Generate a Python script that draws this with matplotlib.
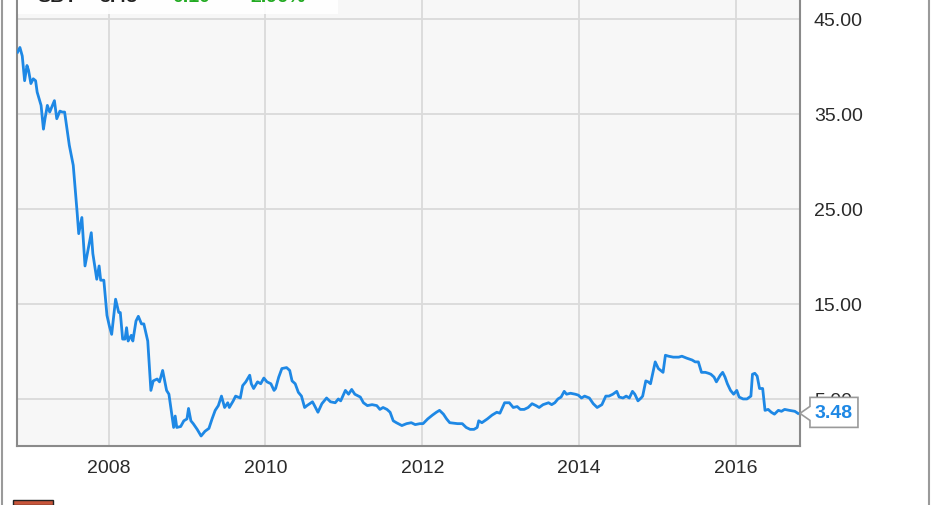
import matplotlib
matplotlib.use("Agg")
import matplotlib.pyplot as plt
import matplotlib.transforms as mtransforms
from matplotlib.patches import Polygon, Rectangle
from matplotlib.lines import Line2D

plt.rcParams['font.family'] = ['Liberation Sans', 'DejaVu Sans']

# share price (decimal year, USD)
years = [
    2006.84, 2006.87, 2006.90, 2006.93, 2006.96, 2006.98, 2007.01, 2007.04, 2007.07, 2007.09,
    2007.14, 2007.17, 2007.19, 2007.22, 2007.25, 2007.31, 2007.34, 2007.38, 2007.41, 2007.44,
    2007.50, 2007.55, 2007.60, 2007.62, 2007.66, 2007.70, 2007.78, 2007.80, 2007.85, 2007.88,
    2007.90, 2007.94, 2007.98, 2008.01, 2008.04, 2008.09, 2008.13, 2008.15, 2008.18, 2008.21,
    2008.23, 2008.25, 2008.29, 2008.31, 2008.35, 2008.38, 2008.42, 2008.45, 2008.47, 2008.50,
    2008.54, 2008.57, 2008.62, 2008.65, 2008.69, 2008.74, 2008.77, 2008.83, 2008.85, 2008.87,
    2008.92, 2008.96, 2009.00, 2009.02, 2009.05, 2009.08, 2009.13, 2009.18, 2009.23, 2009.28,
    2009.32, 2009.36, 2009.40, 2009.44, 2009.48, 2009.52, 2009.54, 2009.59, 2009.62, 2009.68,
    2009.71, 2009.75, 2009.80, 2009.82, 2009.85, 2009.90, 2009.94, 2009.98, 2010.02, 2010.07,
    2010.11, 2010.13, 2010.17, 2010.21, 2010.27, 2010.31, 2010.34, 2010.38, 2010.42, 2010.46,
    2010.50, 2010.53, 2010.60, 2010.62, 2010.67, 2010.72, 2010.78, 2010.83, 2010.89, 2010.93,
    2010.96, 2011.02, 2011.06, 2011.10, 2011.14, 2011.21, 2011.25, 2011.30, 2011.36, 2011.42,
    2011.46, 2011.50, 2011.55, 2011.59, 2011.63, 2011.67, 2011.74, 2011.80, 2011.86, 2011.91,
    2011.97, 2012.01, 2012.07, 2012.13, 2012.18, 2012.22, 2012.27, 2012.31, 2012.35, 2012.45,
    2012.51, 2012.56, 2012.61, 2012.66, 2012.70, 2012.72, 2012.76, 2012.83, 2012.89, 2012.95,
    2012.99, 2013.05, 2013.11, 2013.16, 2013.21, 2013.25, 2013.30, 2013.35, 2013.40, 2013.45,
    2013.49, 2013.54, 2013.61, 2013.65, 2013.69, 2013.73, 2013.77, 2013.81, 2013.84, 2013.89,
    2013.95, 2013.99, 2014.03, 2014.07, 2014.13, 2014.18, 2014.23, 2014.29, 2014.34, 2014.38,
    2014.43, 2014.48, 2014.51, 2014.56, 2014.60, 2014.64, 2014.68, 2014.71, 2014.75, 2014.79,
    2014.81, 2014.85, 2014.88, 2014.91, 2014.97, 2015.01, 2015.07, 2015.10, 2015.14, 2015.20,
    2015.27, 2015.31, 2015.37, 2015.44, 2015.48, 2015.52, 2015.56, 2015.61, 2015.65, 2015.68,
    2015.72, 2015.75, 2015.80, 2015.83, 2015.86, 2015.89, 2015.93, 2015.97, 2016.01, 2016.04,
    2016.09, 2016.14, 2016.19, 2016.21, 2016.24, 2016.27, 2016.30, 2016.34, 2016.37, 2016.41,
    2016.45, 2016.49, 2016.54, 2016.58, 2016.62, 2016.68, 2016.75, 2016.79,
]
prices = [
    41.5, 42.0, 41.1, 38.5, 40.1, 39.6, 38.2, 38.7, 38.5, 37.3,
    35.9, 33.4, 34.5, 35.9, 35.2, 36.4, 34.5, 35.3, 35.2, 35.2,
    31.7, 29.6, 24.6, 22.4, 24.1, 19.0, 22.5, 20.3, 17.6, 19.0,
    17.5, 17.5, 13.8, 12.7, 11.8, 15.5, 14.1, 14.1, 11.3, 11.3,
    12.5, 11.1, 11.7, 11.1, 13.2, 13.7, 12.9, 12.9, 12.2, 11.1,
    5.9, 6.9, 7.1, 6.8, 8.0, 5.9, 5.5, 2.0, 3.2, 2.0,
    2.1, 2.7, 2.9, 4.0, 2.7, 2.4, 1.8, 1.1, 1.6, 1.9,
    2.9, 3.8, 4.3, 5.3, 4.1, 4.6, 4.1, 4.8, 5.3, 5.1,
    6.4, 6.8, 7.5, 6.6, 6.1, 6.8, 6.6, 7.2, 6.8, 6.6,
    5.9, 6.1, 7.3, 8.2, 8.3, 8.0, 6.9, 6.6, 5.7, 5.3,
    4.1, 4.3, 4.7, 4.4, 3.6, 4.5, 5.1, 4.7, 4.6, 5.0,
    4.8, 5.9, 5.5, 6.0, 5.5, 5.2, 4.6, 4.3, 4.4, 4.3,
    3.9, 4.1, 3.9, 3.6, 2.7, 2.5, 2.2, 2.4, 2.5, 2.3,
    2.4, 2.4, 2.9, 3.3, 3.6, 3.8, 3.4, 2.9, 2.5, 2.4,
    2.4, 2.0, 1.8, 1.8, 2.0, 2.7, 2.5, 2.9, 3.3, 3.6,
    3.5, 4.6, 4.6, 4.1, 4.2, 3.9, 3.9, 4.1, 4.5, 4.3,
    4.1, 4.4, 4.6, 4.4, 4.6, 5.0, 5.2, 5.8, 5.5, 5.6,
    5.5, 5.4, 5.1, 5.3, 5.1, 4.5, 4.1, 4.4, 5.3, 5.3,
    5.5, 5.8, 5.2, 5.1, 5.3, 5.1, 5.8, 5.5, 4.8, 5.1,
    5.3, 6.9, 6.8, 6.6, 8.9, 8.2, 7.8, 9.6, 9.5, 9.4,
    9.4, 9.5, 9.3, 9.1, 8.9, 8.9, 7.8, 7.8, 7.7, 7.6,
    7.3, 6.8, 7.5, 7.8, 7.3, 6.6, 5.9, 5.5, 5.9, 5.2,
    5.0, 5.0, 5.3, 7.6, 7.7, 7.4, 6.1, 6.1, 3.8, 3.9,
    3.6, 3.4, 3.8, 3.7, 3.9, 3.8, 3.7, 3.48,
]

year_ticks = [2008, 2010, 2012, 2014, 2016]
price_ticks = [5, 15, 25, 35, 45]
last_label = "3.48"
# legend row at the top, cut off in the source picture
legend_items = [("SBY", "#222222"), ("3.48", "#222222"), ("0.10", "#22aa22"), ("2.96%", "#22aa22")]

blue = "#1e88e5"

fig = plt.figure(figsize=(9.31, 5.06), dpi=100)
fig.patch.set_facecolor("white")
ax = fig.add_axes([17 / 931, 1 - 446.5 / 506, 783 / 931, 446.5 / 506])
ax.set_facecolor("#f7f7f7")

ax.plot(years, prices, color=blue, lw=2.0, solid_joinstyle="round", zorder=3)

ax.set_xlim(2006.833, 2016.816)
ax.set_ylim(0.1, 47.1)
ax.set_xticks(year_ticks)
ax.set_xticklabels([str(y) for y in year_ticks])
ax.set_yticks(price_ticks)
ax.set_yticklabels(["%.2f" % p for p in price_ticks])
ax.yaxis.tick_right()
ax.tick_params(axis="both", length=0, labelsize=14, labelcolor="#2a2a2a")
ax.tick_params(axis="y", pad=10)
ax.tick_params(axis="x", pad=10)
ax.grid(True, color="#dadada", lw=1.3)
ax.set_axisbelow(True)

for side in ["left", "bottom", "right"]:
    ax.spines[side].set_color("#8a8a8a")
    ax.spines[side].set_linewidth(1.5)
ax.spines["top"].set_visible(False)

# white legend strip at the top left
ax.add_patch(Rectangle((0.001, 1 - 15 / 446.5), 320 / 783, 15 / 446.5, transform=ax.transAxes,
                       facecolor="white", edgecolor="none", alpha=0.9, zorder=4))
legend_x = [37, 100, 172, 250]
for (txt, col), px in zip(legend_items, legend_x):
    fig.text(px / 931, 1 - 2.5 / 506, txt, color=col, fontsize=14, fontweight="bold",
             va="baseline", ha="left")

# callout with last value
fig.canvas.draw()
tip = ax.transData.transform((years[-1], prices[-1]))
tr = mtransforms.Affine2D().translate(tip[0] + 2, tip[1])
box = Polygon([(0, 0), (10, 7), (10, 16), (58, 16), (58, -14), (10, -14), (10, -7)],
              closed=True, transform=tr, facecolor="white", edgecolor="#9a9a9a", lw=1.2,
              clip_on=False, zorder=6)
ax.add_patch(box)
ax.text(34, 1, last_label, transform=tr, color=blue, fontsize=14, fontweight="bold",
        ha="center", va="center", clip_on=False, zorder=7)

# outer frame lines
fig.add_artist(Line2D([2 / 931, 2 / 931], [0, 1], color="#9a9a9a", lw=1.5))
fig.add_artist(Line2D([928.5 / 931, 928.5 / 931], [0, 1], color="#9a9a9a", lw=1.5))

# small logo at the bottom left, cut off
fig.add_artist(Rectangle((13 / 931, 0), 40 / 931, 5 / 506, transform=fig.transFigure,
                         facecolor="#c8553a", edgecolor="#222222", lw=1))

fig.savefig("out.png", dpi=100)
